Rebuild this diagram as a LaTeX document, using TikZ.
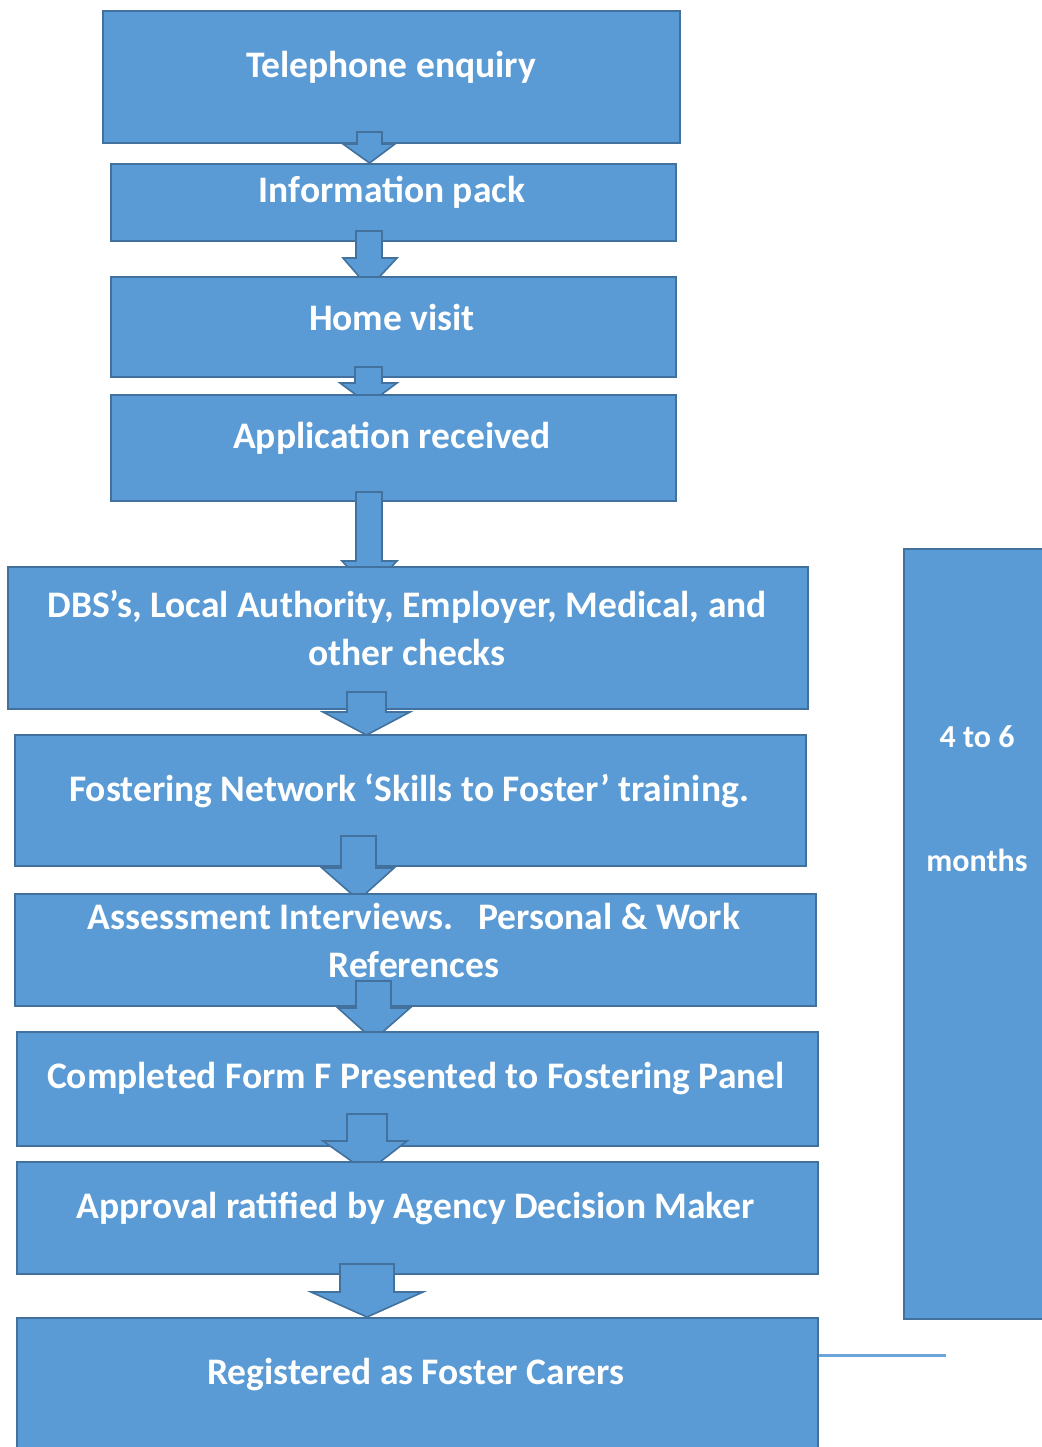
\documentclass[tikz,border=0pt]{standalone}
\usepackage{fontspec}
\setmainfont{Carlito}
\definecolor{boxfill}{HTML}{5B9BD5}
\definecolor{boxline}{HTML}{41719C}
\definecolor{thinline}{HTML}{6AA4D9}
\tikzset{
  blk/.style={draw=boxline, line width=2pt, fill=boxfill},
  arr/.style={draw=boxline, line width=1.6pt, fill=boxfill, line join=miter},
  lbl/.style={text=white, font=\fontsize{37.5}{45}\selectfont\bfseries, align=center, inner sep=0pt},
  sidelbl/.style={text=white, font=\fontsize{32}{38}\selectfont\bfseries, align=center, inner sep=0pt}
}
\newcommand\barrow[7]{%
  \draw[arr] (#1,#3) -- (#2,#3) -- (#2,#4) -- (#6,#4) -- ({(#1+#2)/2},#7) -- (#5,#4) -- (#1,#4) -- cycle;}
\begin{document}
\begin{tikzpicture}[x=1pt,y=-1pt]
\useasboundingbox (0,0) rectangle (1041,1447);
% side box
\node[blk, anchor=north west, inner sep=0pt, minimum height=770pt, minimum width=150pt] (side) at (903,548) {};
\node[sidelbl] (sidetxt) at (977,799) {4 to 6\\[86pt]months};
% boxes and arrows
\node[blk, anchor=north west, inner sep=0pt, minimum width=577pt, minimum height=132pt] (b1) at (102,10) {};
\barrow{357}{382}{132}{144}{343}{395}{163}
\node[blk, anchor=north west, inner sep=0pt, minimum width=565pt, minimum height=77pt] (b2) at (110,163) {};
\barrow{356}{382}{231}{258}{343}{397}{288}
\node[blk, anchor=north west, inner sep=0pt, minimum width=565pt, minimum height=100pt] (b3) at (110,276) {};
\barrow{355}{382}{367}{383}{340}{397}{404}
\node[blk, anchor=north west, inner sep=0pt, minimum width=565pt, minimum height=106pt] (b4) at (110,394) {};
\barrow{356}{382}{492}{561}{342}{397}{590}
\node[blk, anchor=north west, inner sep=0pt, minimum width=800pt, minimum height=142pt] (b5) at (7,566) {};
\barrow{347}{386}{692}{712}{323}{410}{735}
\node[blk, anchor=north west, inner sep=0pt, minimum width=791pt, minimum height=131pt] (b6) at (14,734) {};
\barrow{341}{376}{836}{868}{322}{394}{900}
\node[blk, anchor=north west, inner sep=0pt, minimum width=801pt, minimum height=112pt] (b7) at (14,893) {};
\barrow{356}{391}{981}{1008}{338}{410}{1040}
\node[blk, anchor=north west, inner sep=0pt, minimum width=801pt, minimum height=114pt] (b8) at (16,1031) {};
\barrow{347}{387}{1114}{1141}{323}{407}{1172}
\node[blk, anchor=north west, inner sep=0pt, minimum width=801pt, minimum height=112pt] (b9) at (16,1161) {};
\barrow{340}{394}{1264}{1292}{311}{423}{1317}
\node[blk, anchor=north west, inner sep=0pt, minimum width=801pt, minimum height=140pt] (b10) at (16,1317) {};
% texts
\node[lbl] (t1) at (391,67) {Telephone enquiry};
\node[lbl] (t2) at (392,192) {Information pack};
\node[lbl] (t3) at (392,317) {Home visit};
\node[lbl] (t4) at (392,438) {Application received};
\node[lbl] (t5) at (407,628) {DBS’s, Local Authority, Employer, Medical, and\\[3pt]other checks};
\node[lbl] (t6) at (409,791) {Fostering Network ‘Skills to Foster’ training.};
\node[lbl] (t7) at (414,940) {Assessment Interviews.\ \ \ Personal \& Work\\[3pt]References};
\node[lbl] (t8) at (416,1079) {Completed Form F Presented to Fostering Panel};
\node[lbl] (t9) at (416,1208) {Approval ratified by Agency Decision Maker};
\node[lbl] (t10) at (416,1375) {Registered as Foster Carers};
% thin line
\coordinate (l1) at (819,1355);
\coordinate (l2) at (946,1355);
\draw[thinline, line width=3pt] (l1) -- (l2);
\end{tikzpicture}
\end{document}
